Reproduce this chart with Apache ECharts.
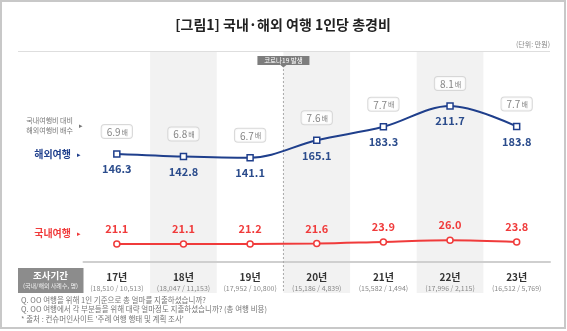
<!DOCTYPE html>
<html>
<head>
<meta charset="utf-8">
<script src="https://cdn.jsdelivr.net/npm/echarts@6/dist/echarts.min.js"></script>
<style>
  html, body { margin: 0; padding: 0; background: #fff; }
  #chart { width: 567px; height: 331px; }
</style>
</head>
<body>
<div id="chart"></div>
<script>
// Survey years and respondent counts (domestic / overseas)
const categories = ['17년', '18년', '19년', '20년', '21년', '22년', '23년'];
const sampleSizes = ['(18,510 / 10,513)', '(18,047 / 11,153)', '(17,952 / 10,800)', '(15,186 / 4,839)', '(15,582 / 1,494)', '(17,996 / 2,115)', '(16,512 / 5,769)'];

// Total spend per person (unit: 10,000 KRW)
const overseas = [146.3, 142.8, 141.1, 165.1, 183.3, 211.7, 183.8];
const domestic = [21.1, 21.1, 21.2, 21.6, 23.9, 26.0, 23.8];

// Overseas spend as a multiple of domestic spend
const ratio = [6.9, 6.8, 6.7, 7.6, 7.7, 8.1, 7.7];

const FONT = '"Noto Sans CJK KR", "Noto Sans", sans-serif';
const BLUE = '#1f3f8c';
const RED = '#f03b3b';

const chart = echarts.init(document.getElementById('chart'), null, { renderer: 'canvas' });

chart.setOption({
  animation: false,
  backgroundColor: '#ffffff',
  textStyle: { fontFamily: FONT },
  grid: { left: 83.5, right: 17, top: 51, bottom: 38 },
  xAxis: {
    type: 'category',
    data: categories,
    boundaryGap: true,
    offset: -25,
    axisLine: { show: true, lineStyle: { color: '#cfcfcf', width: 2 } },
    axisTick: { show: false },
    splitLine: { show: false },
    splitArea: { show: true, interval: 0, areaStyle: { color: ['rgba(255,255,255,0)', '#f2f2f2'] } },
    axisLabel: {
      margin: 3,
      interval: 0,
      formatter: (v, i) => `{y|${v}}\n{n|${sampleSizes[i]}}`,
      rich: {
        y: { fontFamily: FONT, fontSize: 10, fontWeight: 'bold', color: '#333', lineHeight: 12 },
        n: { fontFamily: FONT, fontSize: 7, color: '#8a8a8a', lineHeight: 11 }
      }
    }
  },
  yAxis: [
    { type: 'value', show: false, min: -43.1, max: 286.6 },
    { type: 'value', show: false, min: -45.7, max: 284 }
  ],
  series: [
    {
      name: '해외여행',
      type: 'line',
      yAxisIndex: 0,
      data: overseas,
      smooth: 0.35,
      z: 3,
      lineStyle: { color: BLUE, width: 2 },
      symbol: 'rect',
      symbolSize: 6,
      itemStyle: { color: '#fff', borderColor: BLUE, borderWidth: 1.5 },
      label: {
        show: true, position: 'bottom', distance: 6,
        color: '#2b4c8c', fontSize: 11, fontWeight: 'bold', fontFamily: FONT,
        formatter: p => p.value.toFixed(1)
      }
    },
    {
      name: '배수',
      type: 'scatter',
      yAxisIndex: 0,
      data: overseas,
      symbolSize: 0,
      silent: true,
      z: 4,
      label: {
        show: true, position: 'top', distance: 16,
        backgroundColor: '#fff',
        borderColor: '#cfcfcf', borderWidth: 1, borderRadius: 3,
        padding: [2, 4, 1, 5],
        formatter: p => `{v|${ratio[p.dataIndex].toFixed(1)}}{u|배}`,
        rich: {
          v: { fontFamily: FONT, fontSize: 10, color: '#666', padding: [0, 1, 0, 0] },
          u: { fontFamily: FONT, fontSize: 7, color: '#666' }
        }
      }
    },
    {
      name: '국내여행',
      type: 'line',
      yAxisIndex: 1,
      data: domestic,
      smooth: 0.35,
      z: 3,
      lineStyle: { color: RED, width: 2 },
      symbol: 'circle',
      symbolSize: 6,
      itemStyle: { color: '#fff', borderColor: RED, borderWidth: 1.5 },
      label: {
        show: true, position: 'top', distance: 6,
        color: RED, fontSize: 11, fontWeight: 'bold', fontFamily: FONT,
        formatter: p => p.value.toFixed(1)
      }
    }
  ]
});

// Annotations placed relative to the category axis
const x19 = chart.convertToPixel({ xAxisIndex: 0 }, '19년');
const x20 = chart.convertToPixel({ xAxisIndex: 0 }, '20년');
const covidX = (x19 + x20) / 2;

const txt = (x, y, text, opt, z) => ({
  type: 'text', x, y, silent: true, z: z || 2,
  style: Object.assign({ text, fontFamily: FONT, fill: '#777', fontSize: 7.5, align: 'left', verticalAlign: 'middle' }, opt || {})
});

chart.setOption({
  graphic: [
    // outer frame
    { type: 'rect', shape: { x: 1, y: 1, width: 564, height: 327 }, style: { fill: 'none', stroke: '#c8c8c8', lineWidth: 2 }, silent: true },
    // title and unit
    txt(283, 25, '[그림1] 국내·해외 여행 1인당 총경비', { fontSize: 14, fontWeight: 'bold', fill: '#222', align: 'center' }),
    txt(550, 44, '(단위: 만원)', { fontSize: 7, fill: '#888', align: 'right' }),
    // top rule
    { type: 'line', shape: { x1: 18, y1: 51.5, x2: 550, y2: 51.5 }, style: { stroke: '#dedede', lineWidth: 1 }, silent: true },
    // COVID-19 marker
    { type: 'line', shape: { x1: covidX, y1: 65, x2: covidX, y2: 293 }, style: { stroke: '#a8a8a8', lineWidth: 1, lineDash: [2, 2] }, silent: true, z: 1 },
    { type: 'rect', shape: { x: covidX - 26, y: 56, width: 52, height: 9 }, style: { fill: '#7d7d7d' }, silent: true, z: 5 },
    { type: 'polygon', shape: { points: [[covidX - 3, 65], [covidX + 3, 65], [covidX, 67.5]] }, style: { fill: '#7d7d7d' }, silent: true, z: 5 },
    txt(covidX, 60.8, '코로나19 발생', { fontSize: 6.5, fill: '#fff', align: 'center' }, 10),
    // row headers on the left
    txt(73, 120, '국내여행비 대비', { align: 'right', fontSize: 7 }),
    txt(73, 130, '해외여행비 배수', { align: 'right', fontSize: 7 }),
    txt(79, 125, '▸', { fontSize: 7, fill: '#777' }),
    txt(71, 154, '해외여행', { align: 'right', fontSize: 10, fontWeight: 'bold', fill: BLUE }),
    txt(77, 154, '▸', { fontSize: 7, fill: BLUE }),
    txt(71, 233, '국내여행', { align: 'right', fontSize: 10, fontWeight: 'bold', fill: RED }),
    txt(77, 233, '▸', { fontSize: 7, fill: RED }),
    // survey period header cell
    { type: 'rect', shape: { x: 18, y: 268, width: 65.5, height: 25 }, style: { fill: '#8c8c8c' }, silent: true },
    txt(50.5, 275.5, '조사기간', { align: 'center', fontSize: 9.5, fontWeight: 'bold', fill: '#fff' }, 10),
    txt(50.5, 286, '(국내/해외 사례수, 명)', { align: 'center', fontSize: 6, fill: '#f2f2f2' }, 10),
    // footnotes
    txt(21, 300, 'Q. OO 여행을 위해 1인 기준으로 총 얼마를 지출하셨습니까?', { fontSize: 7.5 }),
    txt(21, 309.5, 'Q. OO 여행에서 각 부분들을 위해 대략 얼마정도 지출하셨습니까? (총 여행 비용)', { fontSize: 7.5 }),
    txt(21, 319, '* 출처 : 컨슈머인사이트 \'주례 여행 행태 및 계획 조사\'', { fontSize: 7.5 })
  ]
});
</script>
</body>
</html>
